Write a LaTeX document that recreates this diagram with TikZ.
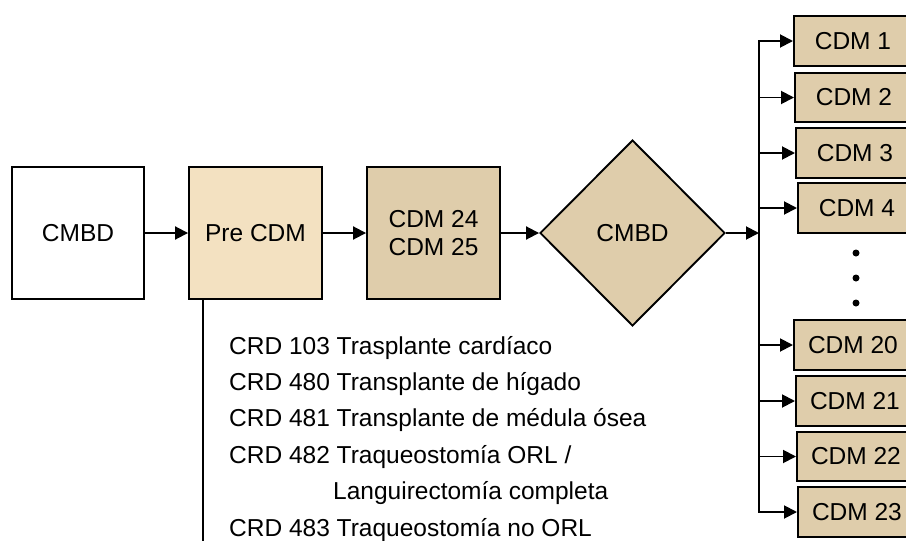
\documentclass[tikz,border=0pt]{standalone}
\usepackage{fontspec}
\setmainfont{Liberation Sans}
\usetikzlibrary{arrows.meta,shapes.geometric}
\definecolor{light}{RGB}{243,225,193}
\definecolor{tanc}{RGB}{223,205,171}
\begin{document}
\begin{tikzpicture}[x=1pt,y=-1pt,
 box/.style={draw=black,line width=1.9pt,inner sep=0pt,font=\fontsize{24.5}{28}\selectfont},
 bigbox/.style={box,minimum width=132pt,minimum height=132pt},
 cdm/.style={box,fill=tanc,minimum width=118pt,anchor=west},
 arr/.style={line width=1.9pt,-{Triangle[length=13pt,width=13pt]}},
 ln/.style={line width=1.9pt},
 item/.style={anchor=base west,inner sep=0pt,font=\fontsize{24.5}{28}\selectfont}]
\useasboundingbox (0,0) rectangle (906,541);
\clip (0,0) rectangle (906,541);

\node[bigbox] (cmbd) at (78,233) {CMBD};
\node[bigbox,fill=light,minimum width=133pt] (pre) at (255.5,233) {Pre CDM};
\node[bigbox,fill=tanc,minimum width=133pt,align=center] (c2425) at (433.5,233) {CDM 24\\CDM 25};
\node[box,fill=tanc,diamond,minimum width=185pt,minimum height=186pt] (dia) at (632.5,233) {CMBD};

\node[cdm,minimum height=50pt] (c1) at (793,41) {CDM 1};
\node[cdm,minimum height=49pt] (c2) at (794,97.5) {CDM 2};
\node[cdm,minimum height=50pt] (c3) at (795,153) {CDM 3};
\node[cdm,minimum height=50pt] (c4) at (797,208) {CDM 4};
\node[cdm,minimum height=50pt] (c20) at (793,345) {CDM 20};
\node[cdm,minimum height=50pt] (c21) at (795,401) {CDM 21};
\node[cdm,minimum height=49pt] (c22) at (796,456.5) {CDM 22};
\node[cdm,minimum height=50pt] (c23) at (797,512) {CDM 23};

\fill (856,253) circle[radius=3.5pt];
\fill (856,278) circle[radius=3.5pt];
\fill (856,303) circle[radius=3.5pt];

\coordinate (bus) at (759,233);
\coordinate (pend) at (203,548);

\draw[arr] (cmbd.east) -- (pre.west);
\draw[arr] (pre.east) -- (c2425.west);
\draw[arr] (c2425.east) -- (dia.west);
\draw[arr] (dia.east) -- (bus);
\draw[ln,line cap=rect] (bus |- c1.west) -- (bus |- c23.west);
\foreach \n in {c1,c2,c3,c4,c20,c21,c22,c23}
  \draw[arr] (bus |- \n.west) -- (\n.west);
\draw[ln] (pre.south -| pend) -- (pend);

\node[item] (t1) at (229,354) {CRD 103 Trasplante cardíaco};
\node[item] (t2) at (229,390.4) {CRD 480 Transplante de hígado};
\node[item] (t3) at (229,426.8) {CRD 481 Transplante de médula ósea};
\node[item] (t4) at (229,463.2) {CRD 482 Traqueostomía ORL /};
\node[item] (t5) at (333,499.6) {Languirectomía completa};
\node[item] (t6) at (229,536) {CRD 483 Traqueostomía no ORL};
\end{tikzpicture}
\end{document}
